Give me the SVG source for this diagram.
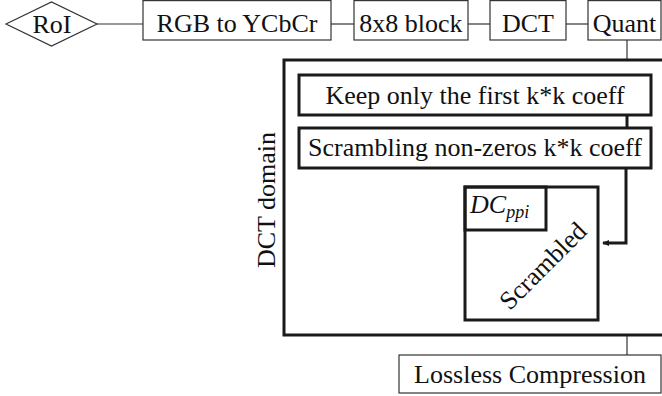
<svg xmlns="http://www.w3.org/2000/svg" width="662" height="396" viewBox="0 0 662 396">
<style>
text{font-family:"Liberation Serif","Times New Roman",serif;font-size:26px;fill:#111;}
.c{text-anchor:middle;}
.thin{fill:#fff;stroke:#333;stroke-width:1.2;}
.thick{fill:none;stroke:#1a1a1a;stroke-width:3;}
.ln{fill:none;stroke:#333;stroke-width:1.2;}
.lk{fill:none;stroke:#1a1a1a;stroke-width:3;}
</style>
<defs>
<marker id="ah" markerWidth="8" markerHeight="8" refX="6" refY="4" orient="auto" markerUnits="userSpaceOnUse">
<path d="M0,1 L7,4 L0,7 Z" fill="#1a1a1a"/>
</marker>
</defs>
<rect width="662" height="396" fill="#fff"/>
<g id="connectors">
<line class="ln" x1="97" y1="24" x2="143" y2="24"/>
<line class="ln" x1="331" y1="24" x2="354" y2="24"/>
<line class="ln" x1="468" y1="24" x2="490" y2="24"/>
<line class="ln" x1="566" y1="24" x2="588" y2="24"/>
<line class="ln" x1="627" y1="40" x2="627" y2="60"/>
<line class="lk" x1="627" y1="115" x2="627" y2="128"/>
<path class="lk" d="M626,168 V243 H603" marker-end="url(#ah)"/>
<line class="ln" x1="627" y1="335" x2="627" y2="355"/>
</g>
<g id="roi">
<polygon class="thin" points="6,24 51.5,2 97,24 51.5,46"/>
<text class="c" x="52" y="33">RoI</text>
</g>
<g id="rgb">
<rect class="thin" x="143" y="0.6" width="188" height="39.4"/>
<text class="c" x="237" y="32">RGB to YCbCr</text>
</g>
<g id="block">
<rect class="thin" x="354" y="0.6" width="114" height="39.4"/>
<text class="c" x="411" y="32">8x8 block</text>
</g>
<g id="dct">
<rect class="thin" x="490" y="0.6" width="76" height="39.4"/>
<text class="c" x="528" y="32">DCT</text>
</g>
<g id="quant">
<rect class="thin" x="588" y="0.6" width="73" height="39.4"/>
<text class="c" x="624.5" y="32">Quant</text>
</g>
<g id="dct-domain">
<rect class="thick" x="284" y="60" width="400" height="275"/>
<text class="c" transform="translate(275,200) rotate(-90)">DCT domain</text>
</g>
<g id="keep">
<rect class="thick" x="299" y="75" width="352" height="40"/>
<text class="c" x="475" y="104">Keep only the first k*k coeff</text>
</g>
<g id="scrambling">
<rect class="thick" x="299" y="128" width="352" height="40"/>
<text class="c" x="475" y="156">Scrambling non-zeros k*k coeff</text>
</g>
<g id="scrambled">
<rect class="thick" x="465" y="187" width="133" height="133"/>
<text class="c" transform="translate(549,272) rotate(-45)">Scrambled</text>
</g>
<g id="dcppi">
<rect class="thick" x="465" y="187" width="81" height="43"/>
<text x="470" y="213" font-style="italic">DC<tspan font-size="18" dy="5">ppi</tspan></text>
</g>
<g id="lossless">
<rect class="thin" x="399" y="355" width="262" height="38"/>
<text class="c" x="530" y="383">Lossless Compression</text>
</g>
</svg>
